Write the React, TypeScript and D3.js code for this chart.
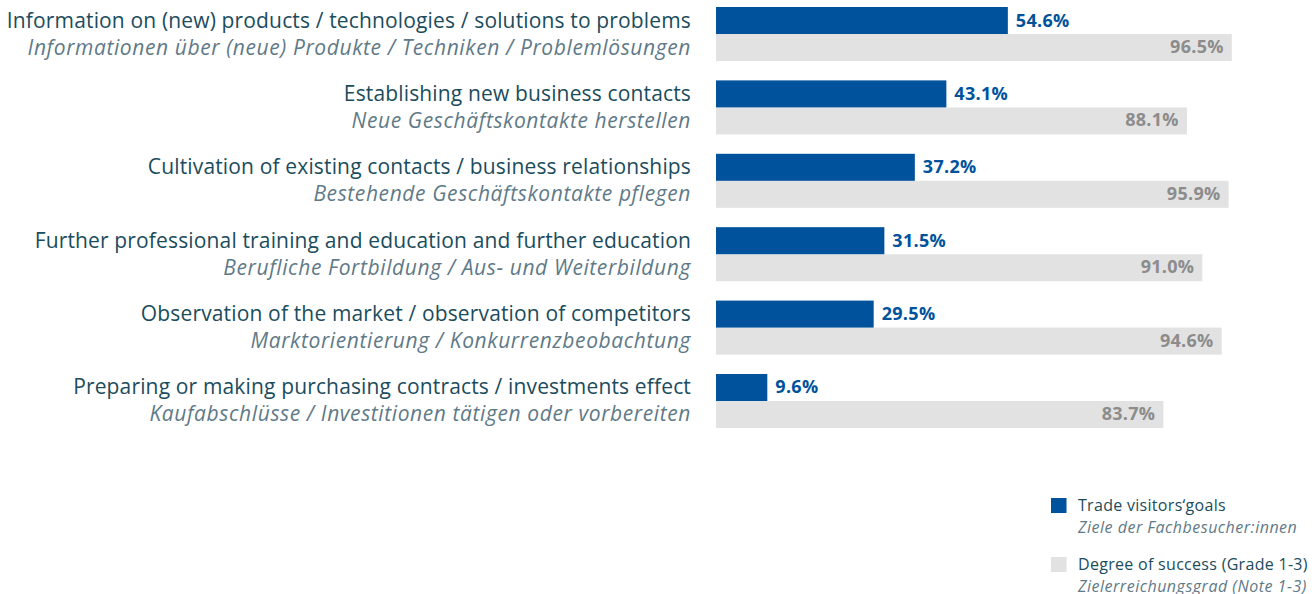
import React from "react";
import * as d3 from "d3";

const categoriesEn = [
  "Information on (new) products / technologies / solutions to problems",
  "Establishing new business contacts",
  "Cultivation of existing contacts / business relationships",
  "Further professional training and education and further education",
  "Observation of the market / observation of competitors",
  "Preparing or making purchasing contracts / investments effect",
];
const categoriesDe = [
  "Informationen über (neue) Produkte / Techniken / Problemlösungen",
  "Neue Geschäftskontakte herstellen",
  "Bestehende Geschäftskontakte pflegen",
  "Berufliche Fortbildung / Aus- und Weiterbildung",
  "Marktorientierung / Konkurrenzbeobachtung",
  "Kaufabschlüsse / Investitionen tätigen oder vorbereiten",
];
const goals = [54.6, 43.1, 37.2, 31.5, 29.5, 9.6];
const success = [96.5, 88.1, 95.9, 91.0, 94.6, 83.7];

const legendEn = ["Trade visitors‘goals", "Degree of success (Grade 1-3)"];
const legendDe = ["Ziele der Fachbesucher:innen", "Zielerreichungsgrad (Note 1-3)"];

const BLUE = "#00529c";
const GRAY = "#e2e2e2";
const EN_COLOR = "#1b4c5c";
const DE_COLOR = "#5f7a87";
const FONT = "'Open Sans', 'Noto Sans', sans-serif";

export default function App() {
  const W = 1315;
  const H = 594;
  const idx = categoriesEn.map((_, i) => i);
  const x = d3.scaleLinear().domain([0, 100]).range([716, 716 + 534.5]);
  const y = d3.scaleBand<number>().domain(idx).range([7, 428]).paddingInner(0.264).paddingOuter(0);
  const half = y.bandwidth() / 2;
  const fmt = (v: number) => v.toFixed(1) + "%";

  return (
    <svg width={W} height={H} style={{ position: "absolute", left: 0, top: 0 }} fontFamily={FONT}>
      {idx.map((i) => {
        const y0 = y(i)!;
        return (
          <g key={i}>
            <text x={691} y={y0 + 20.5} textAnchor="end" fontSize={21} fill={EN_COLOR} letterSpacing={0.15}>
              {categoriesEn[i]}
            </text>
            <text x={691} y={y0 + 47.5} textAnchor="end" fontSize={21} fontStyle="italic" fill={DE_COLOR} letterSpacing={0.6}>
              {categoriesDe[i]}
            </text>
            <rect x={x(0)} y={y0 + half} width={x(success[i]) - x(0)} height={half} fill={GRAY} />
            <rect x={x(0)} y={y0} width={x(goals[i]) - x(0)} height={half} fill={BLUE} />
            <text x={x(goals[i]) + 8} y={y0 + 19.5} fontSize={18} fontWeight="bold" fill={BLUE} letterSpacing={0.3}>
              {fmt(goals[i])}
            </text>
            <text x={x(success[i]) - 8} y={y0 + 46} textAnchor="end" fontSize={18} fontWeight="bold" fill="#8c8c8c" letterSpacing={0.3}>
              {fmt(success[i])}
            </text>
          </g>
        );
      })}
      {legendEn.map((t, i) => {
        const ly = 498 + i * 59;
        return (
          <g key={t}>
            <rect x={1051} y={ly} width={15.5} height={15} fill={i === 0 ? BLUE : GRAY} />
            <text x={1078} y={ly + 12.5} fontSize={16} fill={EN_COLOR} letterSpacing={0.3}>
              {t}
            </text>
            <text x={1078} y={ly + 34.5} fontSize={16} fontStyle="italic" fill={DE_COLOR} letterSpacing={0.5}>
              {legendDe[i]}
            </text>
          </g>
        );
      })}
    </svg>
  );
}
